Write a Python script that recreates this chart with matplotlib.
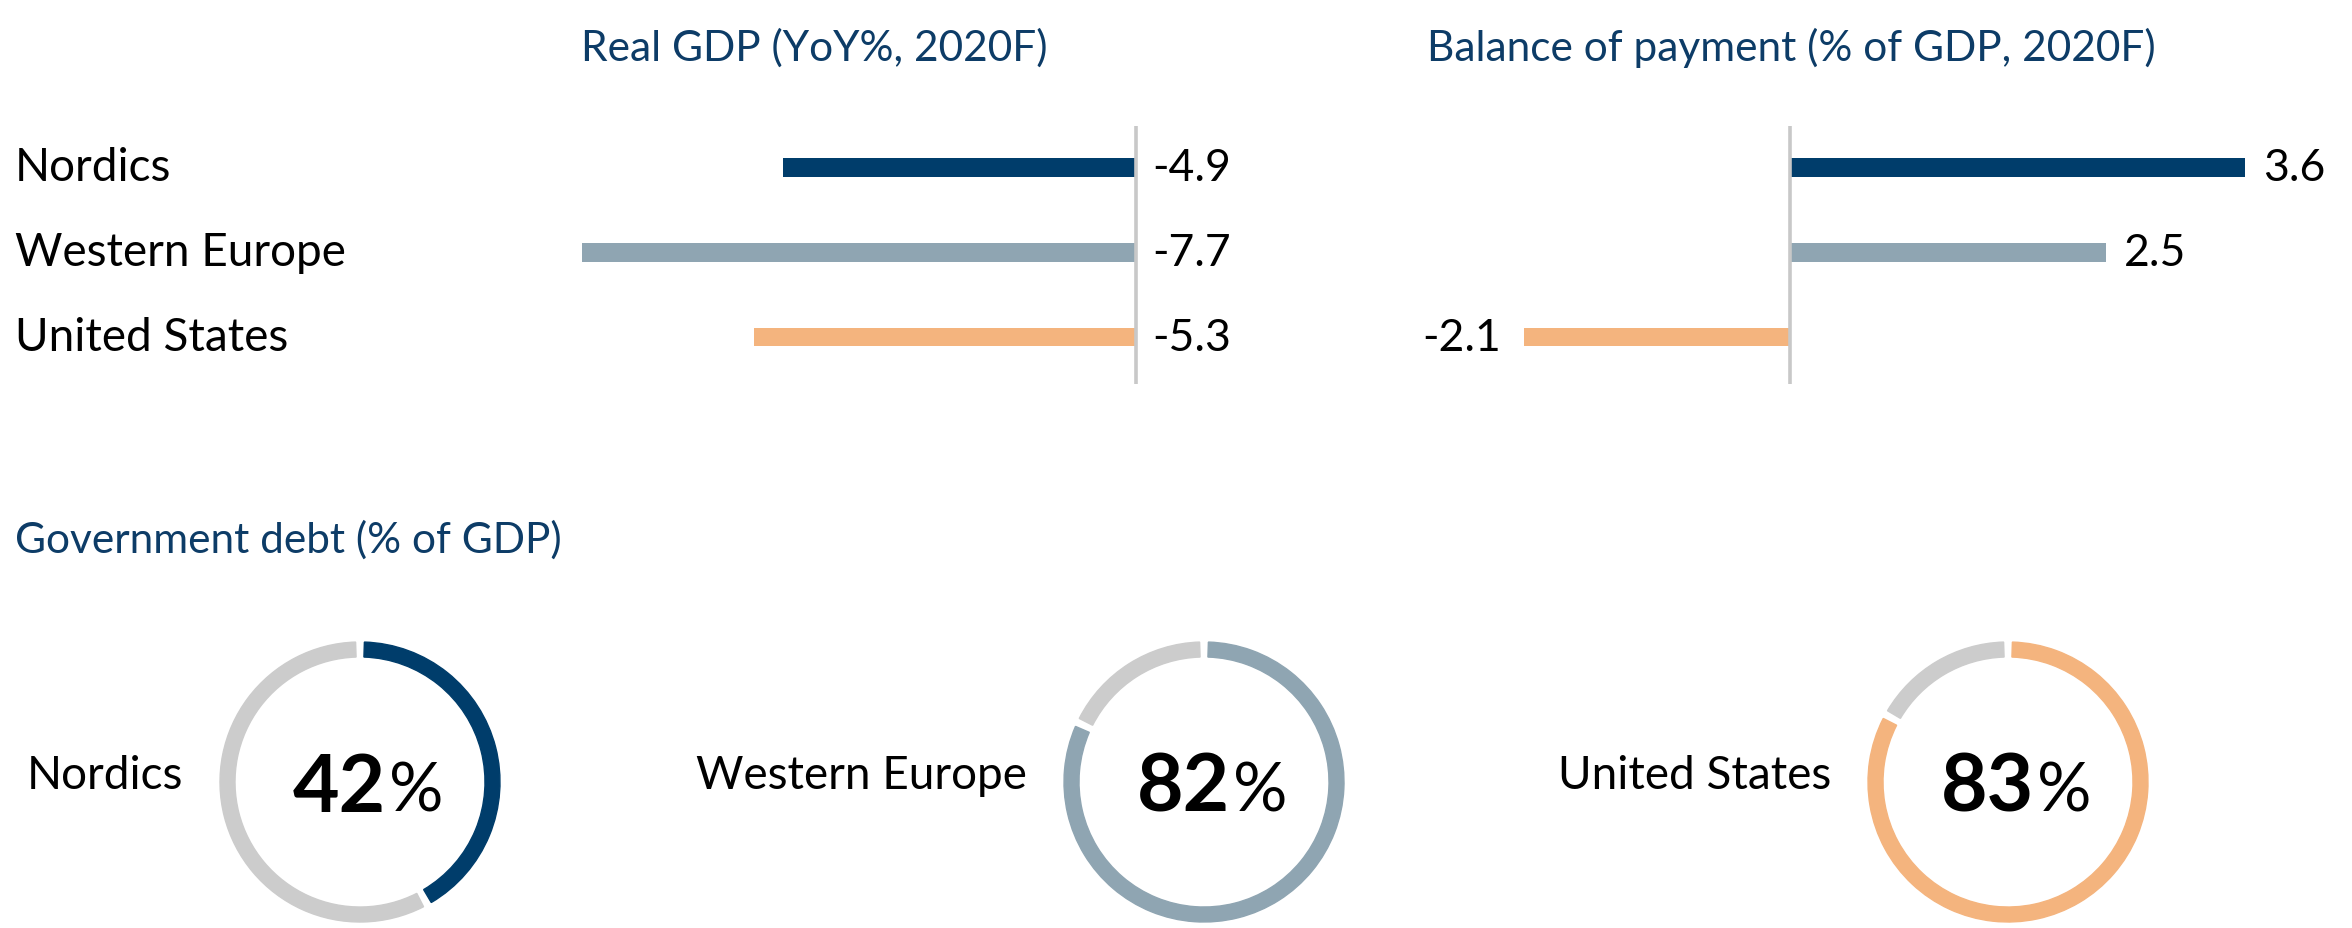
import matplotlib
matplotlib.use("Agg")
import matplotlib.pyplot as plt
from matplotlib.patches import Wedge
from matplotlib.transforms import blended_transform_factory

plt.rcParams["font.family"] = ["Lato", "DejaVu Sans"]

# ── Data ──────────────────────────────────────────────────────────────────────
regions = ["Nordics", "Western Europe", "United States"]
real_gdp = [-4.9, -7.7, -5.3]
balance_of_payment = [3.6, 2.5, -2.1]
gov_debt = [42, 82, 83]

COLORS = ["#003d6b", "#8fa5b2", "#f4b47e"]
TITLE_COLOR = "#0d3c67"
ZERO_COLOR = "#c8c8c8"
RING_GRAY = "#cccccc"

W, H = 2352, 929
fig = plt.figure(figsize=(W / 100, H / 100), dpi=100)


def px_axes(left, top, width, height):
    return fig.add_axes([left / W, 1 - (top + height) / H, width / W, height / H])


def bar_panel(ax, values, xlim, labels_at_zero):
    ax.barh(range(len(values)), values, height=0.22, color=COLORS)
    ax.axvline(0, color=ZERO_COLOR, linewidth=2.6)
    ax.set_xlim(*xlim)
    ax.set_ylim(2.553, -0.488)
    ax.axis("off")
    for i, v in enumerate(values):
        if labels_at_zero:
            # real GDP values sit just right of the zero line
            x, off, ha = 0, 12, "left"
        elif v >= 0:
            x, off, ha = v, 13, "left"
        else:
            x, off, ha = v, -17, "right"
        ax.annotate(f"{v:.1f}", xy=(x, i), xytext=(off, 0), textcoords="offset points",
                    ha=ha, va="center", fontsize=32, color="black")


# ── Top: bar panels ──────────────────────────────────────────────────────────
ax_gdp = px_axes(560, 127, 648, 258)
bar_panel(ax_gdp, real_gdp, (-8, 1), True)

ax_bop = px_axes(1410.5, 127, 948.75, 258)
bar_panel(ax_bop, balance_of_payment, (-3, 4.5), False)

trans = blended_transform_factory(fig.transFigure, ax_gdp.transData)
for i, name in enumerate(regions):
    ax_gdp.text(15 / W, i, name, transform=trans, ha="left", va="center",
                fontsize=33, color="black")

fig.text(581 / W, 1 - 48 / H, "Real GDP (YoY%, 2020F)", ha="left", va="center",
         fontsize=30.5, color=TITLE_COLOR)
fig.text(1427 / W, 1 - 48 / H, "Balance of payment (% of GDP, 2020F)", ha="left",
         va="center", fontsize=30.5, color=TITLE_COLOR)

# ── Bottom: donuts ───────────────────────────────────────────────────────────
fig.text(15 / W, 1 - 540 / H, "Government debt (% of GDP)", ha="left", va="center",
         fontsize=30.5, color=TITLE_COLOR)

centers_x = [360, 1204, 2008]
center_y = 783
R_PX = 140
GAP = 3.6  # degrees

for name, pct, col, cx in zip(regions, gov_debt, COLORS, centers_x):
    half = R_PX * 1.05
    ax = px_axes(cx - half, center_y - half, 2 * half, 2 * half)
    ax.set_xlim(-1.05, 1.05)
    ax.set_ylim(-1.05, 1.05)
    ax.set_aspect("equal")
    ax.axis("off")
    end = 90 - pct * 3.6
    ring_w = 15 / R_PX
    ax.add_patch(Wedge((0, 0), 1, end + GAP / 2, 90 - GAP / 2, width=ring_w, color=col))
    ax.add_patch(Wedge((0, 0), 1, 90 + GAP / 2, end + 360 - GAP / 2, width=ring_w,
                       color=RING_GRAY))
    split = 26 / R_PX
    ax.text(split, -0.207, f"{pct}", ha="right", va="baseline", fontsize=58,
            fontweight="bold", color="black")
    ax.text(split + 3 / R_PX, -0.207, "%", ha="left", va="baseline", fontsize=49,
            color="black")
    ax.text(-1 - 37 / R_PX, 0.05, name, ha="right", va="center", fontsize=33,
            color="black", clip_on=False)

fig.savefig("out.png", dpi=100)
